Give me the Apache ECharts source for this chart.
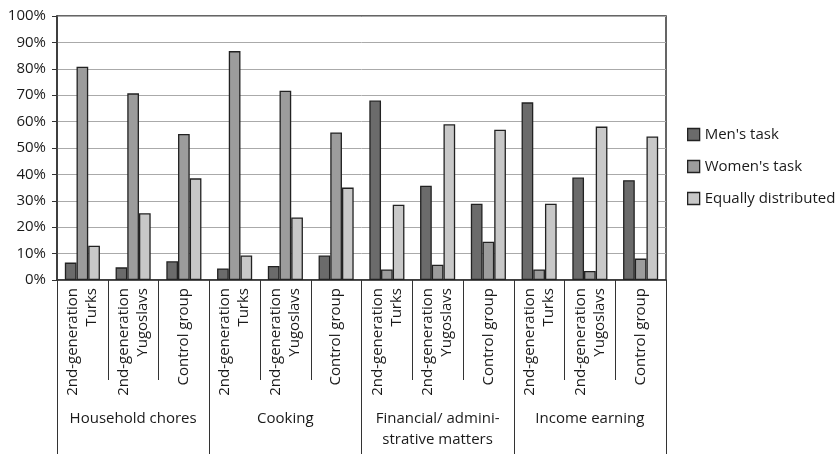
<!DOCTYPE html>
<html>
<head>
<meta charset="utf-8">
<script src="https://cdn.jsdelivr.net/npm/echarts@6/dist/echarts.min.js"></script>
<style>
  html, body { margin: 0; padding: 0; background: #fff; }
  #chart { width: 840px; height: 454px; }
</style>
</head>
<body>
<div id="chart"></div>
<script>
const groups = ["Household chores", "Cooking", "Financial/ admini-\nstrative matters", "Income earning"];
const subgroups = ["2nd-generation\nTurks", "2nd-generation\nYugoslavs", "Control group"];
const categories = groups.flatMap(() => subgroups);

const mensTask = [6.6, 4.8, 7.1, 4.4, 5.3, 9.3, 68.0, 35.7, 28.9, 67.3, 38.8, 37.8];
const womensTask = [80.8, 70.7, 55.3, 86.7, 71.7, 55.9, 4.0, 5.8, 14.5, 4.0, 3.4, 8.1];
const equallyDistributed = [13.0, 25.3, 38.5, 9.3, 23.7, 35.0, 28.5, 59.0, 56.9, 28.9, 58.1, 54.4];

const font = "Open Sans";
const textColor = "#1a1a1a";
const chart = echarts.init(document.getElementById("chart"));

const barStyle = (color) => ({ color: color, borderColor: "#222", borderWidth: 1.3 });

chart.setOption({
  animation: false,
  textStyle: { fontFamily: font },
  grid: {
    left: 57, right: 174, top: 16, bottom: 174,
    show: true, borderColor: "#333", borderWidth: 1.5
  },
  legend: {
    orient: "vertical",
    left: 682, top: 122,
    itemWidth: 12, itemHeight: 12, itemGap: 17,
    icon: "rect",
    itemStyle: { borderColor: "#222", borderWidth: 1.3 },
    textStyle: { fontFamily: font, fontSize: 15, color: textColor },
    data: ["Men's task", "Women's task", "Equally distributed"]
  },
  xAxis: [
    {
      type: "category",
      data: categories,
      position: "bottom",
      axisLine: { lineStyle: { color: "#333", width: 1.5 } },
      axisTick: { show: true, length: 100, interval: 0, lineStyle: { color: "#333" } },
      axisLabel: {
        interval: 0, rotate: 90, margin: 8,
        fontFamily: font, fontSize: 15, lineHeight: 19, color: textColor
      }
    },
    {
      type: "category",
      data: groups,
      position: "bottom",
      axisLine: { show: false },
      axisTick: { show: true, length: 180, interval: 0, lineStyle: { color: "#333" } },
      axisLabel: {
        interval: 0, margin: 128, verticalAlign: "top",
        fontFamily: font, fontSize: 15, lineHeight: 21, color: textColor
      }
    }
  ],
  yAxis: {
    type: "value",
    min: 0, max: 100, interval: 10,
    axisLine: { show: true, lineStyle: { color: "#333", width: 1.5 } },
    axisTick: { show: true, length: 5, lineStyle: { color: "#333" } },
    axisLabel: { formatter: "{value}%", fontFamily: font, fontSize: 15, color: textColor, margin: 11 },
    splitLine: { lineStyle: { color: "#aaa", width: 1 } }
  },
  series: [
    { name: "Men's task", type: "bar", data: mensTask, barWidth: 11.7, barGap: "0%", itemStyle: barStyle("#6b6b6b") },
    { name: "Women's task", type: "bar", data: womensTask, barWidth: 11.7, barGap: "0%", itemStyle: barStyle("#9c9c9c") },
    { name: "Equally distributed", type: "bar", data: equallyDistributed, barWidth: 11.7, barGap: "0%", itemStyle: barStyle("#c8c8c8") }
  ]
});
</script>
</body>
</html>
